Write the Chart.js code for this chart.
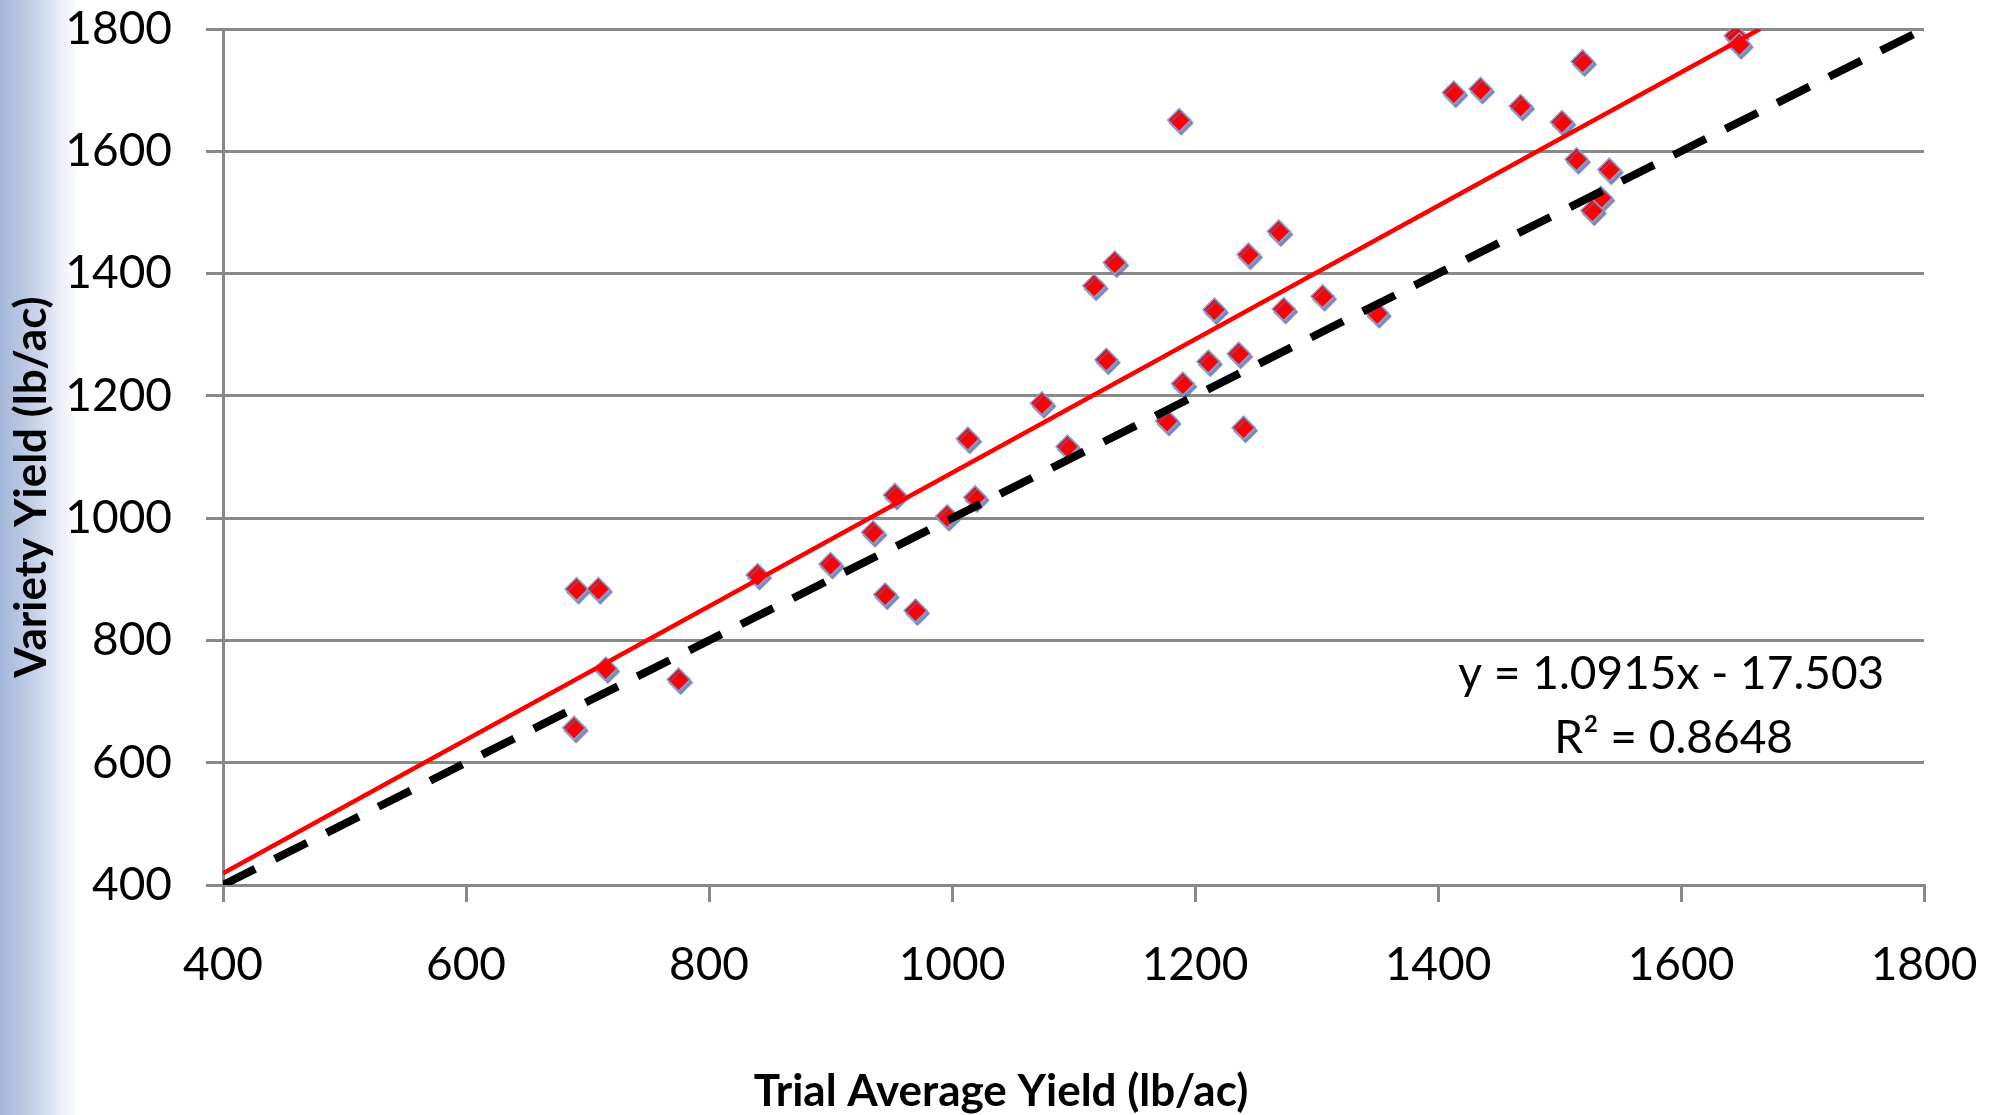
<!DOCTYPE html>
<html>
<head>
<meta charset="utf-8">
<title>Variety Yield vs Trial Average Yield</title>
<script src="https://cdn.jsdelivr.net/npm/chart.js@4.4.1/dist/chart.umd.min.js"></script>
<style>
  html, body { margin: 0; padding: 0; background: #fff; }
  #wrap {
    width: 2001px; height: 1115px;
    background: linear-gradient(to right, #a4b6d8 0px, #b9c7e2 22px, #d3dcee 45px, #eef1f8 62px, #ffffff 80px);
  }
  canvas { display: block; }
</style>
</head>
<body>
<div id="wrap"><canvas id="mycanvas" width="2001" height="1115"></canvas></div>
<script>
// trial average yield (lb/ac) for each variety
var trialAvg = [691, 709, 689, 715, 775, 840, 900, 935, 945, 953, 970, 996, 1013, 1019,
                1074, 1095, 1134, 1117, 1127, 1177, 1187, 1190, 1211, 1216, 1236, 1240,
                1244, 1269, 1273, 1305, 1350, 1413, 1435, 1468, 1502, 1514, 1519, 1541,
                1534, 1527, 1645, 1648];
// variety yield (lb/ac)
var varietyYield = [884, 884, 657, 754, 736, 907, 925, 977, 875, 1038, 849, 1003, 1130, 1034,
                    1188, 1117, 1418, 1380, 1259, 1159, 1651, 1220, 1256, 1341, 1269, 1148,
                    1431, 1469, 1342, 1363, 1335, 1696, 1702, 1674, 1648, 1587, 1747, 1570,
                    1524, 1503, 1789, 1775];

// 1:1 line and linear trend line end points
var oneToOneX = [400, 1800];
var oneToOneY = [400, 1800];
var trendX = [400, 1665];
var trendY = [419, 1800];

var axisTicks = [400, 600, 800, 1000, 1200, 1400, 1600, 1800];
var xTitle = 'Trial Average Yield (lb/ac)';
var yTitle = 'Variety Yield (lb/ac)';
var eqLines = ['y = 1.0915x - 17.503', 'R\u00B2 = 0.8648'];

function toPoints(xs, ys) {
    return xs.map(function (v, i) { return {x: v, y: ys[i]}; });
}

var tickFont = {family: 'Lato', size: 46};
var gridGray = '#898989';

// axis titles + trendline label, and a soft shadow under the markers
var extras = {
    id: 'extras',
    beforeDatasetDraw: function (chart, args) {
        if (args.index === 2) {
            var c = chart.ctx;
            c.save();
            c.shadowColor = 'rgba(90,105,170,0.75)';
            c.shadowOffsetX = 2;
            c.shadowOffsetY = 3;
            c.shadowBlur = 1;
        }
    },
    afterDatasetDraw: function (chart, args) {
        if (args.index === 2) chart.ctx.restore();
    },
    afterDraw: function (chart) {
        var c = chart.ctx;
        var xs = chart.scales.x, ys = chart.scales.y;
        c.save();
        c.fillStyle = '#000';
        c.textAlign = 'center';
        c.textBaseline = 'alphabetic';

        c.font = '46px Lato';
        c.fillText(eqLines[0], xs.getPixelForValue(1592), ys.getPixelForValue(720));
        c.fillText(eqLines[1], xs.getPixelForValue(1594), ys.getPixelForValue(616));

        c.font = 'bold 44px Lato';
        c.fillText(xTitle, 1001, 1106);

        c.translate(46, 487);
        c.rotate(-Math.PI / 2);
        c.fillText(yTitle, 0, 0);
        c.restore();
    }
};

function plainTick(v) { return String(v); }

var ctx_live = document.getElementById('mycanvas');

var myChart = new Chart(ctx_live, {
    type: 'scatter',
    data: {
        datasets: [
            {
                label: '1:1',
                type: 'line',
                data: toPoints(oneToOneX, oneToOneY),
                borderColor: '#000',
                borderWidth: 8,
                borderDash: [36, 22],
                pointRadius: 0,
                fill: false,
                order: 1
            },
            {
                label: 'Linear trend',
                type: 'line',
                data: toPoints(trendX, trendY),
                borderColor: '#ff0000',
                borderWidth: 4.5,
                pointRadius: 0,
                fill: false,
                order: 2
            },
            {
                label: 'Varieties',
                data: toPoints(trialAvg, varietyYield),
                pointStyle: 'rectRot',
                pointRadius: 11.5,
                backgroundColor: '#ff0000',
                borderColor: '#8e9dcc',
                borderWidth: 1.5,
                order: 3
            }
        ]
    },
    options: {
        responsive: false,
        animation: false,
        devicePixelRatio: 1,
        layout: {padding: {top: 29, right: 77, bottom: 0, left: 0}},
        plugins: {
            legend: {display: false},
            tooltip: {enabled: false},
            title: {display: false}
        },
        scales: {
            x: {
                type: 'linear',
                min: 400,
                max: 1800,
                afterBuildTicks: function (s) { s.ticks = axisTicks.map(function (v) { return {value: v}; }); },
                afterFit: function (s) { s.height = 230; s.paddingLeft = 0; s.paddingRight = 0; },
                ticks: {font: tickFont, color: '#000', padding: 36, maxRotation: 0, callback: plainTick},
                grid: {drawOnChartArea: false, color: gridGray, lineWidth: 3, tickLength: 17},
                border: {display: true, color: gridGray, width: 3}
            },
            y: {
                type: 'linear',
                min: 400,
                max: 1800,
                afterBuildTicks: function (s) { s.ticks = axisTicks.map(function (v) { return {value: v}; }); },
                afterFit: function (s) { s.width = 223; s.paddingTop = 0; s.paddingBottom = 0; },
                ticks: {font: tickFont, color: '#000', padding: 34, callback: plainTick},
                grid: {color: gridGray, lineWidth: 3, tickLength: 17},
                border: {display: true, color: gridGray, width: 3}
            }
        }
    },
    plugins: [extras]
});
</script>
</body>
</html>
